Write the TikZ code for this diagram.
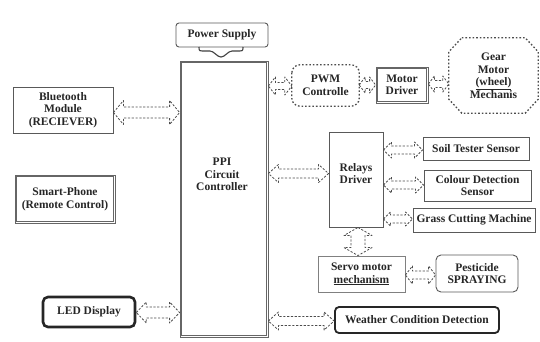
\documentclass[tikz,border=0pt]{standalone}
\usepackage{fontspec}
\setmainfont{Liberation Serif}
\usetikzlibrary{calc}
\begin{document}
\begin{tikzpicture}[x=1pt,y=-1pt,
  txt/.style={font=\bfseries\fontsize{11.5}{12.5}\selectfont, align=center, text=black!85, inner sep=0pt},
  box/.style={txt, draw=black!65, line width=0.9pt},
  dbox/.style={txt, draw=black!60, line width=0.8pt},
  inner/.style={draw=black!60, line width=0.8pt},
  dotbox/.style={draw=black!70, line width=1.3pt, dash pattern=on 1.6pt off 2pt},
  arr/.style={draw=black!70, line width=0.8pt, dash pattern=on 2.2pt off 1.6pt, line join=round},
  dblk/.style n args={3}{to path={let \p1=(\tikztostart), \p2=(\tikztotarget) in
    (\p1) -- ($(\p1)!#3pt!(\p2)!#2pt!90:(\p2)$)
    -- ($(\p1)!#3pt!(\p2)!#1pt!90:(\p2)$)
    -- ($(\p2)!#3pt!(\p1)!#1pt!-90:(\p1)$)
    -- ($(\p2)!#3pt!(\p1)!#2pt!-90:(\p1)$)
    -- (\p2)
    -- ($(\p2)!#3pt!(\p1)!#2pt!90:(\p1)$)
    -- ($(\p2)!#3pt!(\p1)!#1pt!90:(\p1)$)
    -- ($(\p1)!#3pt!(\p2)!#1pt!-90:(\p2)$)
    -- ($(\p1)!#3pt!(\p2)!#2pt!-90:(\p2)$)
    -- cycle}}]
\useasboundingbox (0,0) rectangle (540,341);
\fill[white] (0,0) rectangle (540,341);

% nodes
\node[box, rounded corners=3pt, minimum width=92, minimum height=24] (ps) at (222,35) {Power Supply};
\node[dbox, minimum width=88, minimum height=276] (ppi) at (224,199) {};
\draw[inner] ([shift={(2.2pt,-2.2pt)}]ppi.north west) rectangle ([shift={(-2.2pt,2.2pt)}]ppi.south east);
\node[txt] (ppitext) at (222,174.5) {PPI\\Circuit\\Controller};
\node[box, minimum width=100, minimum height=46] (bt) at (63,110) {Bluetooth\\Module\\(RECIEVER)};
\node[dbox, minimum width=100, minimum height=48] (sp) at (65,199) {Smart-Phone\\(Remote Control)};
\draw[inner] ([shift={(2.2pt,-2.2pt)}]sp.north west) rectangle ([shift={(-2.2pt,2.2pt)}]sp.south east);
\node[txt, draw=black!85, line width=2.6pt, rounded corners=5pt, minimum width=92, minimum height=30] (led) at (89,312) {LED Display};
\node[txt, minimum width=67, minimum height=41] (pwm) at (325.5,85.5) {PWM\\Controlle};
\draw[dotbox, rounded corners=8pt] (pwm.north west) rectangle (pwm.south east);
\node[dbox, minimum width=52, minimum height=36] (md) at (402,85) {Motor\\Driver};
\draw[inner] ([shift={(2.2pt,-2.2pt)}]md.north west) rectangle ([shift={(-2.2pt,2.2pt)}]md.south east);
\node[txt, minimum width=89, minimum height=75] (gear) at (493.5,75.5) {Gear\\Motor\\\underline{(wheel)}\\Mechanis};
\draw[dotbox] ([xshift=13pt]gear.north west) -- ([xshift=-13pt]gear.north east)
  -- ([yshift=-14pt]gear.north east) -- ([yshift=14pt]gear.south east)
  -- ([xshift=-13pt]gear.south east) -- ([xshift=13pt]gear.south west)
  -- ([yshift=14pt]gear.south west) -- ([yshift=-14pt]gear.north west) -- cycle;
\node[box, minimum width=54, minimum height=95] (rd) at (356,179.5) {};
\node[txt] (rdtext) at (356,173.5) {Relays\\Driver};
\node[box, minimum width=106, minimum height=23] (soil) at (476,148.5) {Soil Tester Sensor};
\node[box, minimum width=107, minimum height=31] (col) at (477.5,185.5) {Colour Detection\\Sensor};
\node[box, minimum width=122, minimum height=24] (grass) at (474,220) {Grass Cutting Machine};
\node[box, draw=black!50, minimum width=87, minimum height=36] (servo) at (361.5,274) {Servo motor\\\underline{mechanism}};
\node[box, rounded corners=5pt, minimum width=82, minimum height=37] (pest) at (477,273.5) {Pesticide\\SPRAYING};
\node[txt, draw=black!85, line width=1.8pt, rounded corners=4pt, minimum width=164, minimum height=26] (wcd) at (417,320) {Weather Condition Detection};

% power supply arrow
\draw[draw=black!75, line width=1.1pt] (199,47) .. controls (199,51) .. (205,51) -- (210,51)
  .. controls (214,51) and (217,57) .. (221,57) .. controls (225,57) and (228,51) .. (232,51)
  -- (237,51) .. controls (243,51) .. (243,47);

% connectors
\draw[arr, dblk={5.5}{12}{10}] (bt.east |- 0,112.5) to (ppi.west |- 0,112.5);
\draw[arr, dblk={3.5}{9}{7}] (ppi.east |- 0,86) to (pwm.west |- 0,86);
\draw[arr, dblk={3.5}{8}{6}] (pwm.east |- 0,85) to (md.west |- 0,85);
\draw[arr, dblk={3.5}{8}{6}] (md.east |- 0,84) to (gear.west |- 0,84);
\draw[arr, dblk={4.5}{9}{10}] (ppi.east |- 0,173.5) to (rd.west |- 0,173.5);
\draw[arr, dblk={4}{8}{8}] (rd.east |- 0,150) to (soil.west |- 0,150);
\draw[arr, dblk={4}{8}{8}] (rd.east |- 0,185) to (col.west |- 0,185);
\draw[arr, dblk={4}{7}{7}] (rd.east |- 0,219) to (grass.west |- 0,219);
\draw[arr, dblk={7}{14}{8}] (358,0 |- rd.south) to (358,0 |- servo.north);
\draw[arr, dblk={4}{9}{7}] (servo.east |- 0,275) to (pest.west |- 0,275);
\draw[arr, dblk={5.5}{10.5}{10}] (led.east |- 0,312.5) to (ppi.west |- 0,312.5);
\draw[arr, dblk={4.5}{9}{10}] (ppi.east |- 0,321) to (wcd.west |- 0,321);
\end{tikzpicture}
\end{document}
